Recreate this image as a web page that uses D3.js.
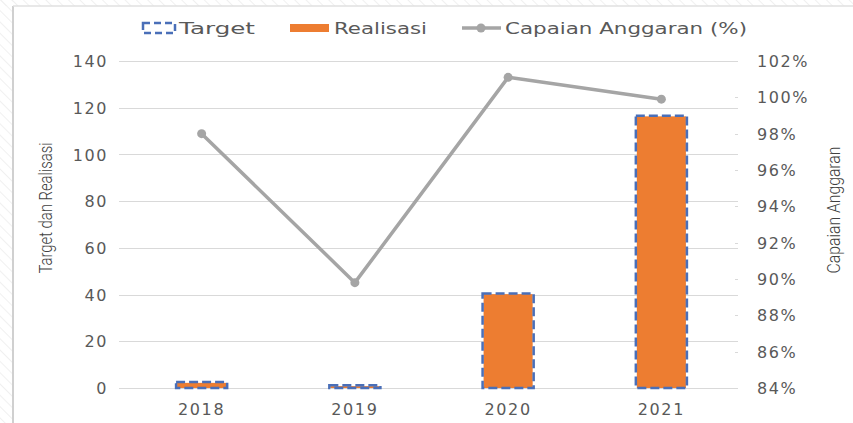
<!DOCTYPE html>
<html>
<head>
<meta charset="utf-8">
<script src="https://cdn.jsdelivr.net/npm/d3@7"></script>
<style>
  html, body { margin: 0; padding: 0; background: #fff; }
  svg { display: block; }
</style>
</head>
<body>
<svg id="chart" width="853" height="423"></svg>
<script>
const categories = ["2018", "2019", "2020", "2021"];
const targetValues = [2.6, 1.2, 40.5, 116.6];
const realisasiValues = [2.2, 0.8, 40.2, 116.3];
const capaianValues = [98.0, 89.8, 101.1, 99.9];
const leftTicks = [0, 20, 40, 60, 80, 100, 120, 140];
const rightTicks = [84, 86, 88, 90, 92, 94, 96, 98, 100, 102];

const svg = d3.select("#chart");
const W = 853, H = 423;
const plot = { left: 125, right: 738, top: 61, bottom: 388 };
const tickFont = "'DejaVu Sans', sans-serif";
const textColor = "#595959";

// background pattern / frame
const defs = svg.append("defs");
const pat = defs.append("pattern").attr("id", "hatch").attr("width", 8).attr("height", 8)
  .attr("patternUnits", "userSpaceOnUse").attr("patternTransform", "rotate(-45)");
pat.append("line").attr("x1", 0).attr("y1", 0).attr("x2", 0).attr("y2", 8)
  .attr("stroke", "#f0f0f0").attr("stroke-width", 2);
svg.append("rect").attr("x", 0).attr("y", 0).attr("width", 13).attr("height", H).attr("fill", "url(#hatch)");
svg.append("rect").attr("x", 0).attr("y", 0).attr("width", W).attr("height", 6).attr("fill", "url(#hatch)");
svg.append("line").attr("x1", 13).attr("x2", 13).attr("y1", 6).attr("y2", H).attr("stroke", "#d0d0d0").attr("stroke-width", 2);
svg.append("line").attr("x1", 13).attr("x2", W).attr("y1", 6).attr("y2", 6).attr("stroke", "#e0e0e0").attr("stroke-width", 1.5);

const x = d3.scaleBand().domain(categories).range([plot.left, plot.right]).padding(0);
const yL = d3.scaleLinear().domain([0, 140]).range([plot.bottom, plot.top]);
const yR = d3.scaleLinear().domain([84, 102]).range([plot.bottom, plot.top]);
const barW = x.bandwidth() / 3;

// gridlines
svg.append("g").selectAll("line").data(leftTicks).join("line")
  .attr("x1", plot.left - 6).attr("x2", plot.right)
  .attr("y1", d => Math.round(yL(d)) + 0.5).attr("y2", d => Math.round(yL(d)) + 0.5)
  .attr("stroke", "#d9d9d9").attr("stroke-width", 1);
// right tick marks
svg.append("g").selectAll("line").data(rightTicks).join("line")
  .attr("x1", plot.right - 3).attr("x2", plot.right)
  .attr("y1", d => Math.round(yR(d)) + 0.5).attr("y2", d => Math.round(yR(d)) + 0.5)
  .attr("stroke", "#d9d9d9").attr("stroke-width", 1);

function styleTicks(g) {
  g.select(".domain").remove();
  g.selectAll("text").attr("font-family", tickFont).attr("font-size", 16)
    .attr("letter-spacing", "1.6px").attr("fill", textColor).attr("dy", "0.35em");
}

// left axis
const axL = d3.axisLeft(yL).tickValues(leftTicks).tickSize(0).tickPadding(0);
svg.append("g").attr("transform", `translate(108,0)`).call(axL).call(styleTicks);

// right axis
const axR = d3.axisRight(yR).tickValues(rightTicks).tickSize(0).tickPadding(0).tickFormat(d => d + "%");
svg.append("g").attr("transform", `translate(757,0)`).call(axR).call(styleTicks);

// bottom axis
const axB = d3.axisBottom(x).tickSize(0).tickPadding(0);
svg.append("g").attr("transform", `translate(0,${plot.bottom + 21})`).call(axB).call(styleTicks);

// bars
const cx = d => x(d) + x.bandwidth() / 2;
svg.append("g").selectAll("rect").data(categories).join("rect")
  .attr("x", d => cx(d) - barW / 2 + 1)
  .attr("width", barW - 2)
  .attr("y", (d, i) => yL(realisasiValues[i]))
  .attr("height", (d, i) => yL(0) - yL(realisasiValues[i]))
  .attr("fill", "#ED7D31");
svg.append("g").selectAll("rect").data(categories).join("rect")
  .attr("x", d => cx(d) - barW / 2)
  .attr("width", barW)
  .attr("y", (d, i) => yL(targetValues[i]))
  .attr("height", (d, i) => yL(0) - yL(targetValues[i]))
  .attr("fill", "none")
  .attr("stroke", "#4A6FB8")
  .attr("stroke-width", 2.5)
  .attr("stroke-dasharray", "9,4");

// line
const line = d3.line().x((d, i) => cx(categories[i])).y(d => yR(d));
svg.append("path").datum(capaianValues).attr("d", line)
  .attr("fill", "none").attr("stroke", "#A5A5A5").attr("stroke-width", 3.5)
  .attr("stroke-linejoin", "round");
svg.append("g").selectAll("circle").data(capaianValues).join("circle")
  .attr("cx", (d, i) => cx(categories[i])).attr("cy", d => yR(d)).attr("r", 4.5)
  .attr("fill", "#A5A5A5");

// axis titles
svg.append("text").attr("transform", "translate(52,208) rotate(-90)")
  .attr("text-anchor", "middle").attr("font-family", "Roboto, sans-serif").attr("font-weight", 300)
  .attr("font-size", 19).attr("fill", "#404040")
  .attr("textLength", 131).attr("lengthAdjust", "spacingAndGlyphs")
  .text("Target dan Realisasi");
svg.append("text").attr("transform", "translate(840,210) rotate(-90)")
  .attr("text-anchor", "middle").attr("font-family", "Roboto, sans-serif").attr("font-weight", 300)
  .attr("font-size", 19).attr("fill", "#404040")
  .attr("textLength", 127).attr("lengthAdjust", "spacingAndGlyphs")
  .text("Capaian Anggaran");

// legend
const leg = svg.append("g");
function legText(xp, len, t) {
  leg.append("text").attr("x", xp).attr("y", 28).attr("dy", "0.35em")
    .attr("font-family", tickFont).attr("font-size", 16.5)
    .attr("textLength", len).attr("lengthAdjust", "spacingAndGlyphs")
    .attr("fill", textColor).text(t);
}
leg.append("rect").attr("x", 143).attr("y", 23).attr("width", 32).attr("height", 10)
  .attr("fill", "none").attr("stroke", "#4A6FB8").attr("stroke-width", 2.5).attr("stroke-dasharray", "7,4");
legText(179, 76, "Target");
leg.append("rect").attr("x", 290).attr("y", 24).attr("width", 39).attr("height", 8).attr("fill", "#ED7D31");
legText(334, 93, "Realisasi");
leg.append("line").attr("x1", 462).attr("x2", 501).attr("y1", 28).attr("y2", 28)
  .attr("stroke", "#A5A5A5").attr("stroke-width", 3.5);
leg.append("circle").attr("cx", 481).attr("cy", 28).attr("r", 4.5).attr("fill", "#A5A5A5");
legText(505, 242, "Capaian Anggaran (%)");
</script>
</body>
</html>
